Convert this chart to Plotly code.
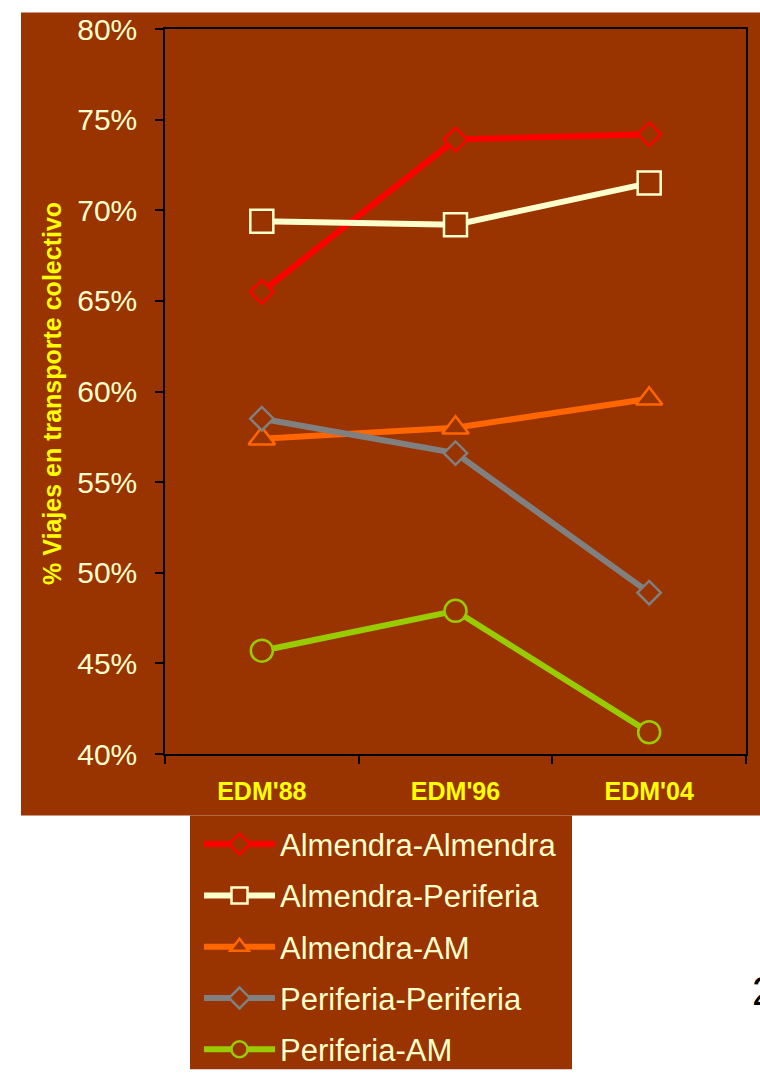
import plotly.graph_objects as go

categories = ["EDM'88", "EDM'96", "EDM'04"]
almendra_almendra = [65.5, 73.9, 74.2]
almendra_periferia = [69.4, 69.2, 71.5]
almendra_am = [57.4, 58.0, 59.6]
periferia_periferia = [58.5, 56.6, 48.9]
periferia_am = [45.7, 47.9, 41.2]
y_ticks = [40, 45, 50, 55, 60, 65, 70, 75, 80]

BROWN = "#993300"
W, H = 760, 1088
L, R, T, B = 165, 14, 22, 323
PW, PH = W - L - R, H - T - B


def px(x):
    return (x - L) / PW


def py(y):
    return (H - B - y) / PH


series = [
    ("Almendra-Almendra", almendra_almendra, "#FF0000", "diamond", 18),
    ("Almendra-Periferia", almendra_periferia, "#FFFFCC", "square", 23),
    ("Almendra-AM", almendra_am, "#FF6600", "triangle-up", 23),
    ("Periferia-Periferia", periferia_periferia, "#808080", "diamond", 18),
    ("Periferia-AM", periferia_am, "#99CC00", "circle", 22),
]

fig = go.Figure()
for i, (name, vals, color, sym, size) in enumerate(series):
    fig.add_trace(go.Scatter(
        x=categories, y=vals, name=name, mode="lines+markers",
        legendgroup=f"g{i}",
        line=dict(color=color, width=6),
        marker=dict(symbol=sym, size=size, color=BROWN,
                    line=dict(color=color, width=2.5)),
    ))

fig.update_layout(
    width=W, height=H,
    margin=dict(l=L, r=R, t=T, b=B),
    paper_bgcolor="white",
    plot_bgcolor=BROWN,
    font=dict(family="Liberation Sans, Arial, sans-serif"),
    showlegend=True,
    legend=dict(
        x=px(199), y=py(830), xanchor="left", yanchor="top",
        bgcolor="rgba(0,0,0,0)",
        font=dict(size=31, color="#FFFFCC"),
        itemwidth=71,
        tracegroupgap=8,
        itemclick=False,
    ),
    shapes=[
        dict(type="rect", xref="paper", yref="paper", layer="below",
             x0=px(21), x1=px(760), y0=py(828), y1=py(5),
             fillcolor=BROWN, line=dict(width=0)),
        dict(type="rect", xref="paper", yref="paper", layer="below",
             x0=px(190), x1=px(572), y0=py(1088), y1=py(828),
             fillcolor=BROWN, line=dict(width=0)),
    ],
    annotations=[
        dict(text="% Viajes en transporte colectivo", textangle=-90,
             xref="paper", yref="paper", x=px(52), y=py(396),
             xanchor="center", yanchor="middle", showarrow=False,
             font=dict(size=25, color="#FFFF00", family="Liberation Sans, Arial, sans-serif", weight="bold")),
        dict(text="2", xref="paper", yref="paper", x=px(750), y=py(1008),
             xanchor="left", yanchor="middle", showarrow=False,
             font=dict(size=40, color="black")),
    ],
)

fig.update_xaxes(
    type="category", range=[-0.5, 2.5],
    showline=True, linecolor="black", linewidth=1.5, mirror=True,
    ticks="outside", tickson="boundaries", ticklen=8, tickcolor="black", tickwidth=1.5,
    showgrid=False, zeroline=False,
    tickfont=dict(size=25, color="#FFFF00", weight="bold"),
    ticklabelstandoff=14,
)
fig.update_yaxes(
    range=[40, 80], tickvals=y_ticks, ticktext=[f"{v}%" for v in y_ticks],
    showline=True, linecolor="black", linewidth=1.5, mirror=True,
    ticks="outside", ticklen=8, tickcolor="black", tickwidth=1.5,
    showgrid=False, zeroline=False,
    tickfont=dict(size=30, color="#FFFFCC"),
    ticklabelstandoff=12,
)

fig.write_html(
    "out.html",
    config={"displayModeBar": False},
    post_script="document.body.style.margin='0';document.body.style.overflow='hidden';",
)
